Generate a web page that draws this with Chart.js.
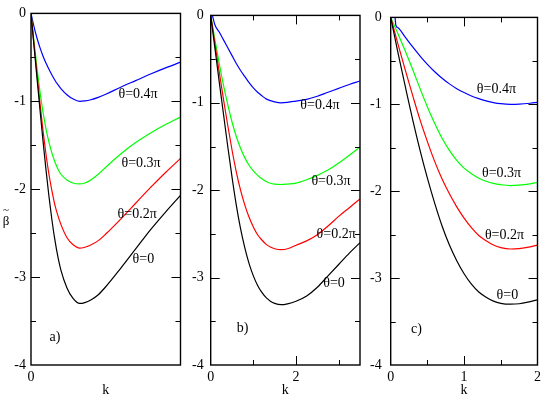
<!DOCTYPE html>
<html>
<head>
<meta charset="utf-8">
<script src="https://cdn.jsdelivr.net/npm/chart.js@4.4.0/dist/chart.umd.min.js"></script>
<style>
  html, body { margin: 0; padding: 0; background: #fff; }
  #wrap { position: relative; width: 545px; height: 399px; }
  #wrap canvas { position: absolute; left: 0; top: 0; }
</style>
</head>
<body>
<div id="wrap">
  <canvas id="pa" width="545" height="399"></canvas>
  <canvas id="pb" width="545" height="399"></canvas>
  <canvas id="pc" width="545" height="399"></canvas>
</div>
<script>
// panel a)
const kA     = [0, 0.1, 0.2, 0.3, 0.4, 0.5, 0.6, 0.7, 0.8, 0.9, 1.0, 1.2, 1.4, 1.63, 1.8, 2.0, 2.25, 2.5, 3.0, 3.5, 4.0, 4.5, 5.0];
const blackA = [0, -0.37, -0.735, -1.095, -1.445, -1.775, -2.08, -2.35, -2.58, -2.77, -2.92, -3.12, -3.24, -3.30, -3.29, -3.26, -3.20, -3.11, -2.90, -2.68, -2.46, -2.26, -2.07];
const redA   = [0, -0.35, -0.69, -1.02, -1.33, -1.60, -1.83, -2.02, -2.18, -2.30, -2.40, -2.55, -2.63, -2.67, -2.66, -2.635, -2.585, -2.51, -2.34, -2.16, -1.98, -1.81, -1.65];
const greenA = [0, -0.32, -0.62, -0.89, -1.12, -1.31, -1.465, -1.59, -1.69, -1.77, -1.83, -1.895, -1.93, -1.94, -1.93, -1.895, -1.83, -1.75, -1.60, -1.47, -1.36, -1.265, -1.18];
const blueA  = [0, -0.15, -0.28, -0.39, -0.485, -0.565, -0.635, -0.70, -0.76, -0.81, -0.855, -0.925, -0.972, -1.00, -0.995, -0.982, -0.955, -0.92, -0.84, -0.765, -0.69, -0.62, -0.555];

// panel b)
const kB     = [0, 0.1, 0.2, 0.3, 0.4, 0.5, 0.6, 0.7, 0.8, 0.9, 1.0, 1.1, 1.2, 1.3, 1.4, 1.5, 1.65, 1.8, 2.0, 2.25, 2.5, 2.75, 3.0, 3.25, 3.5];
const blackB = [0, -0.38, -0.76, -1.13, -1.50, -1.85, -2.17, -2.44, -2.66, -2.84, -2.98, -3.09, -3.17, -3.23, -3.27, -3.295, -3.31, -3.30, -3.27, -3.21, -3.11, -2.98, -2.85, -2.72, -2.60];
const redB   = [0, -0.33, -0.65, -0.96, -1.26, -1.54, -1.79, -2.00, -2.17, -2.31, -2.42, -2.51, -2.57, -2.62, -2.65, -2.67, -2.68, -2.67, -2.63, -2.58, -2.51, -2.41, -2.30, -2.20, -2.10];
const greenB = [0, -0.28, -0.55, -0.80, -1.02, -1.22, -1.385, -1.52, -1.63, -1.715, -1.78, -1.83, -1.87, -1.90, -1.92, -1.93, -1.935, -1.93, -1.92, -1.88, -1.83, -1.77, -1.69, -1.60, -1.505];
const kBlueB = [0.04, 0.1, 0.2, 0.3, 0.4, 0.5, 0.6, 0.7, 0.8, 0.9, 1.0, 1.1, 1.2, 1.3, 1.4, 1.5, 1.65, 1.8, 2.0, 2.25, 2.5, 2.75, 3.0, 3.25, 3.5];
const blueB  = [0, -0.11, -0.19, -0.28, -0.37, -0.46, -0.55, -0.63, -0.70, -0.77, -0.83, -0.88, -0.92, -0.955, -0.975, -0.99, -1.0, -0.995, -0.98, -0.96, -0.925, -0.88, -0.835, -0.79, -0.75];

// panel c)
const kC     = [0, 0.1, 0.2, 0.3, 0.4, 0.5, 0.6, 0.7, 0.8, 0.9, 1.0, 1.1, 1.2, 1.3, 1.4, 1.5, 1.63, 1.75, 1.9, 2.0];
const blackC = [0, -0.41, -0.80, -1.18, -1.53, -1.85, -2.14, -2.40, -2.62, -2.80, -2.95, -3.07, -3.16, -3.22, -3.265, -3.29, -3.30, -3.295, -3.27, -3.25];
const redC   = [0, -0.31, -0.61, -0.90, -1.18, -1.43, -1.66, -1.86, -2.03, -2.18, -2.31, -2.42, -2.51, -2.57, -2.62, -2.65, -2.665, -2.66, -2.64, -2.62];
const greenC = [0, -0.19, -0.39, -0.60, -0.82, -1.03, -1.22, -1.39, -1.53, -1.645, -1.735, -1.80, -1.85, -1.885, -1.91, -1.925, -1.935, -1.93, -1.915, -1.90];
const kBlueC = [0.06, 0.07, 0.1, 0.2, 0.3, 0.4, 0.5, 0.6, 0.7, 0.8, 0.9, 1.0, 1.1, 1.2, 1.3, 1.4, 1.5, 1.63, 1.75, 1.9, 2.0];
const blueC  = [0, -0.09, -0.12, -0.23, -0.34, -0.445, -0.54, -0.625, -0.70, -0.765, -0.82, -0.865, -0.905, -0.935, -0.96, -0.98, -0.993, -1.0, -0.998, -0.988, -0.978];

const curveColors = ['#000000', '#ff0000', '#00ff00', '#0000ff'];
const thetaLabels = ['\u03b8=0', '\u03b8=0.2\u03c0', '\u03b8=0.3\u03c0', '\u03b8=0.4\u03c0'];
const yMajor = [-3, -2, -1];
const yMinor = [-3.5, -2.5, -1.5, -0.5];
const serif = "'Liberation Serif', 'DejaVu Serif', serif";

function pts(ks, vs) {
  return ks.map((k, i) => ({x: k, y: vs[i]}));
}

// frame, inward ticks (mirrored) and the text inside each panel
const panelDeco = {
  id: 'panelDeco',
  afterDatasetsDraw(chart, args, o) {
    const {ctx, chartArea: a, scales: {x, y}} = chart;
    ctx.save();
    ctx.strokeStyle = '#000';
    ctx.lineWidth = 1;
    ctx.beginPath();
    yMajor.concat(yMinor).forEach(v => {
      const len = yMajor.includes(v) ? 9 : 5;
      const py = Math.round(y.getPixelForValue(v)) + 0.5;
      ctx.moveTo(a.left, py); ctx.lineTo(a.left + len, py);
      ctx.moveTo(a.right, py); ctx.lineTo(a.right - len, py);
    });
    o.xMajor.concat(o.xMinor).forEach(v => {
      const len = o.xMajor.includes(v) ? 9 : 5;
      const px = Math.round(x.getPixelForValue(v)) + 0.5;
      ctx.moveTo(px, a.bottom); ctx.lineTo(px, a.bottom - len);
      ctx.moveTo(px, a.top); ctx.lineTo(px, a.top + len);
    });
    ctx.stroke();
    ctx.lineWidth = 1.4;
    ctx.strokeRect(a.left, a.top, a.right - a.left, a.bottom - a.top);

    ctx.fillStyle = '#000';
    ctx.font = '14px ' + serif;
    ctx.textAlign = 'center';
    ctx.textBaseline = 'middle';
    o.labels.forEach((t, i) => {
      ctx.fillText(thetaLabels[i], x.getPixelForValue(t[0]), y.getPixelForValue(t[1]));
    });
    ctx.fillText(o.tag[0], x.getPixelForValue(o.tag[1]), y.getPixelForValue(o.tag[2]));
    ctx.textBaseline = 'alphabetic';
    ctx.fillText('k', (a.left + a.right) / 2, 394);
    if (o.yTitle) {
      ctx.font = '13px ' + serif;
      ctx.fillText('\u03b2', 6, 225);
      ctx.font = '11px ' + serif;
      ctx.fillText('~', 6, 213);
    }
    ctx.restore();
  }
};

function makePanel(id, series, p) {
  new Chart(document.getElementById(id), {
    type: 'scatter',
    data: {
      datasets: series.map((s, i) => ({
        data: pts(s[0], s[1]),
        showLine: true,
        borderColor: curveColors[i],
        borderWidth: 1.2,
        pointRadius: 0,
        cubicInterpolationMode: 'monotone'
      }))
    },
    options: {
      responsive: false,
      animation: false,
      events: [],
      layout: {padding: {left: p.left - 31, right: 545 - p.right, top: 7, bottom: 0}},
      plugins: {
        legend: {display: false},
        tooltip: {enabled: false},
        panelDeco: p.deco
      },
      scales: {
        x: {
          type: 'linear',
          min: 0,
          max: p.xMax,
          grid: {display: false, drawTicks: false},
          border: {display: false},
          afterFit: s => { s.height = 34; },
          ticks: {
            stepSize: p.xStep,
            autoSkip: false,
            maxRotation: 0,
            padding: 4,
            color: '#000',
            font: {family: serif, size: 14},
            callback: v => p.xLabels.includes(v) ? String(v) : ''
          }
        },
        y: {
          min: -4,
          max: 0,
          grid: {display: false, drawTicks: false},
          border: {display: false},
          afterFit: s => { s.width = 31; },
          ticks: {
            stepSize: 1,
            padding: p.yPad,
            color: '#000',
            font: {family: serif, size: 14}
          }
        }
      }
    },
    plugins: [panelDeco]
  });
}

makePanel('pa', [[kA, blackA], [kA, redA], [kA, greenA], [kA, blueA]], {
  left: 31, right: 180.5, xMax: 5, xStep: 5, xLabels: [0], yPad: 5,
  deco: {
    xMajor: [], xMinor: [],
    labels: [[3.76, -2.80], [3.55, -2.29], [3.68, -1.71], [3.58, -0.92]],
    tag: ['a)', 0.8, -3.68], yTitle: true
  }
});
makePanel('pb', [[kB, blackB], [kB, redB], [kB, greenB], [kBlueB, blueB]], {
  left: 210.7, right: 360, xMax: 3.5, xStep: 1, xLabels: [0, 2], yPad: 7,
  deco: {
    xMajor: [2], xMinor: [1, 3],
    labels: [[2.89, -3.07], [2.94, -2.51], [2.82, -1.90], [2.56, -1.03]],
    tag: ['b)', 0.75, -3.58]
  }
});
makePanel('pc', [[kC, blackC], [kC, redC], [kC, greenC], [kBlueC, blueC]], {
  left: 390.7, right: 539.3, xMax: 2, xStep: 0.5, xLabels: [0, 1, 2], yPad: 9,
  deco: {
    xMajor: [1], xMinor: [0.5, 1.5],
    labels: [[1.59, -3.20], [1.55, -2.51], [1.51, -1.79], [1.44, -0.83]],
    tag: ['c)', 0.35, -3.59]
  }
});
</script>
</body>
</html>
